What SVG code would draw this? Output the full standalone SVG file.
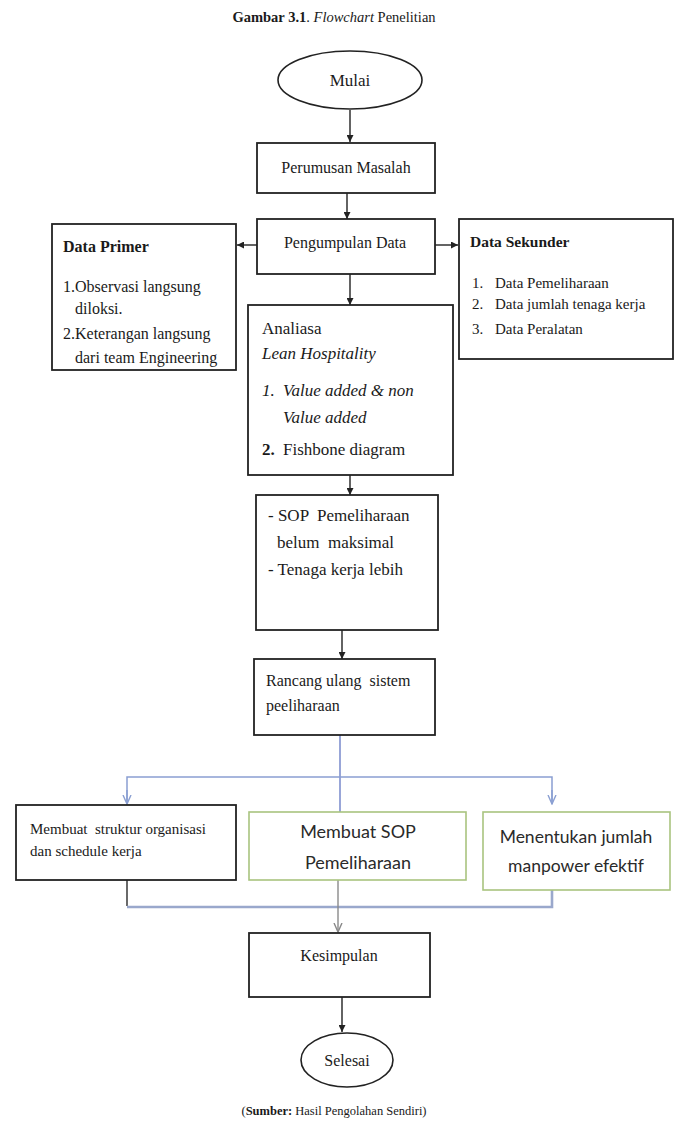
<svg xmlns="http://www.w3.org/2000/svg" width="680" height="1122" viewBox="0 0 680 1122">
<defs>
<style>
.t{font-family:"Liberation Serif","Times New Roman",serif;fill:#1a1a1a}
.c{font-family:Lato,"Open Sans",sans-serif;fill:#2a2a2a}
.box{fill:#fff;stroke:#222;stroke-width:1.8}
.gbox{fill:#fff;stroke:#a9c47f;stroke-width:1.6}
.ln{fill:none;stroke:#222;stroke-width:1.4}
.bl{fill:none;stroke:#8a9fd2;stroke-width:1.5}
.bl2{fill:none;stroke:#9aa8cc;stroke-width:2.6}
</style>
<marker id="ah" viewBox="0 0 10 10" refX="10" refY="5" markerWidth="7" markerHeight="7" orient="auto" markerUnits="userSpaceOnUse">
<path d="M0,0 L10,5 L0,10 z" fill="#222"/>
</marker>
<marker id="av" viewBox="0 0 10 10" refX="9" refY="5" markerWidth="10" markerHeight="10" orient="auto" markerUnits="userSpaceOnUse">
<path d="M0,1 L9,5 L0,9" fill="none" stroke="#8a9fd2" stroke-width="1.4"/>
</marker>
<marker id="ag" viewBox="0 0 10 10" refX="9" refY="5" markerWidth="10" markerHeight="10" orient="auto" markerUnits="userSpaceOnUse">
<path d="M0,1 L9,5 L0,9" fill="none" stroke="#888" stroke-width="1.4"/>
</marker>
</defs>
<rect width="680" height="1122" fill="#fff"/>

<text class="t" x="334" y="22" text-anchor="middle" font-size="14.5"><tspan font-weight="bold">Gambar 3.1</tspan>. <tspan font-style="italic">Flowchart</tspan> Penelitian</text>

<g id="connectors">
<line class="ln" x1="350" y1="110" x2="350" y2="142" marker-end="url(#ah)"/>
<line class="ln" x1="347" y1="193" x2="347" y2="219" marker-end="url(#ah)"/>
<line class="ln" x1="257" y1="245" x2="237" y2="245" marker-end="url(#ah)"/>
<line class="ln" x1="435" y1="245" x2="458" y2="245" stroke="#777" marker-end="url(#ah)"/>
<line class="ln" x1="350" y1="274" x2="350" y2="305" marker-end="url(#ah)"/>
<line class="ln" x1="350" y1="475" x2="350" y2="495" marker-end="url(#ah)"/>
<line class="ln" x1="342" y1="630" x2="342" y2="659" marker-end="url(#ah)"/>
<line x1="340" y1="735" x2="340" y2="812" stroke="#6d80c8" stroke-width="1.4"/>
<polyline class="bl" points="127,803 127,777 552,777 552,803"/>
<line class="bl" x1="127" y1="790" x2="127" y2="804" marker-end="url(#av)"/>
<line class="bl" x1="552" y1="790" x2="552" y2="804" marker-end="url(#av)"/>
<polyline fill="none" stroke="#444" stroke-width="1.6" points="127,880 127,906"/>
<polyline class="bl2" points="127,907 552,907 552,889"/>
<line x1="338" y1="880" x2="338" y2="932" stroke="#8a8a8a" stroke-width="1.4" marker-end="url(#ag)"/>
<line class="ln" x1="342" y1="997" x2="342" y2="1032" marker-end="url(#ah)"/>
</g>

<g id="mulai">
<ellipse cx="350" cy="80" rx="72" ry="29" fill="#fff" stroke="#222" stroke-width="1.6"/>
<text class="t" x="350" y="86" text-anchor="middle" font-size="17">Mulai</text>
</g>

<g id="perumusan">
<rect class="box" x="257" y="143" width="178" height="50"/>
<text class="t" x="346" y="173" text-anchor="middle" font-size="16">Perumusan Masalah</text>
</g>

<g id="pengumpulan">
<rect class="box" x="257" y="219" width="178" height="55"/>
<text class="t" x="345" y="248" text-anchor="middle" font-size="16">Pengumpulan Data</text>
</g>

<g id="data-primer">
<rect class="box" x="52" y="224" width="184" height="146"/>
<text class="t" x="63" y="252" font-size="16" font-weight="bold">Data Primer</text>
<text class="t" x="63" y="292" font-size="16">1.Observasi langsung</text>
<text class="t" x="75" y="314" font-size="16">diloksi.</text>
<text class="t" x="63" y="339" font-size="16">2.Keterangan langsung</text>
<text class="t" x="75" y="363" font-size="16">dari team Engineering</text>
</g>

<g id="data-sekunder">
<rect class="box" x="459" y="219" width="214" height="140"/>
<text class="t" x="470" y="247" font-size="15.5" font-weight="bold">Data Sekunder</text>
<text class="t" x="472" y="288" font-size="15">1.</text>
<text class="t" x="495" y="288" font-size="15">Data Pemeliharaan</text>
<text class="t" x="472" y="309" font-size="15">2.</text>
<text class="t" x="495" y="309" font-size="15">Data jumlah tenaga kerja</text>
<text class="t" x="472" y="334" font-size="15">3.</text>
<text class="t" x="495" y="334" font-size="15">Data Peralatan</text>
</g>

<g id="analiasa">
<rect class="box" x="248" y="305" width="205" height="170"/>
<text class="t" x="262" y="334" font-size="17">Analiasa</text>
<text class="t" x="262" y="359" font-size="17" font-style="italic">Lean Hospitality</text>
<text class="t" x="262" y="396" font-size="17" font-style="italic">1.</text>
<text class="t" x="283" y="396" font-size="17" font-style="italic">Value added &amp; non</text>
<text class="t" x="283" y="423" font-size="17" font-style="italic">Value added</text>
<text class="t" x="262" y="455" font-size="17" font-weight="bold">2.</text>
<text class="t" x="283" y="455" font-size="17">Fishbone diagram</text>
</g>

<g id="sop">
<rect class="box" x="256" y="495" width="182" height="135"/>
<text class="t" x="268" y="521" font-size="17" xml:space="preserve">- SOP  Pemeliharaan</text>
<text class="t" x="277" y="548" font-size="17" xml:space="preserve">belum  maksimal</text>
<text class="t" x="268" y="575" font-size="17">- Tenaga kerja lebih</text>
</g>

<g id="rancang">
<rect class="box" x="254" y="659" width="181" height="76"/>
<text class="t" x="266" y="686" font-size="16" xml:space="preserve">Rancang ulang  sistem</text>
<text class="t" x="266" y="711" font-size="16">peeliharaan</text>
</g>

<g id="struktur">
<rect class="box" x="16" y="805" width="220" height="75"/>
<text class="t" x="30" y="834" font-size="15" xml:space="preserve">Membuat  struktur organisasi</text>
<text class="t" x="30" y="856" font-size="15">dan schedule kerja</text>
</g>

<g id="membuat-sop">
<rect class="gbox" x="249" y="812" width="217" height="68"/>
<text class="c" x="358" y="838" text-anchor="middle" font-size="18">Membuat SOP</text>
<text class="c" x="358" y="869" text-anchor="middle" font-size="18">Pemeliharaan</text>
</g>

<g id="manpower">
<rect class="gbox" x="483" y="812" width="187" height="78"/>
<text class="c" x="576" y="843" text-anchor="middle" font-size="17.5">Menentukan jumlah</text>
<text class="c" x="576" y="872" text-anchor="middle" font-size="17.5">manpower efektif</text>
</g>

<g id="kesimpulan">
<rect class="box" x="249" y="933" width="181" height="64"/>
<text class="t" x="339" y="961" text-anchor="middle" font-size="16">Kesimpulan</text>
</g>

<g id="selesai">
<ellipse cx="347" cy="1060" rx="46" ry="27" fill="#fff" stroke="#222" stroke-width="1.6"/>
<text class="t" x="347" y="1066" text-anchor="middle" font-size="16">Selesai</text>
</g>

<text class="t" x="334" y="1115" text-anchor="middle" font-size="12.5">(<tspan font-weight="bold">Sumber:</tspan> Hasil Pengolahan Sendiri)</text>
</svg>
